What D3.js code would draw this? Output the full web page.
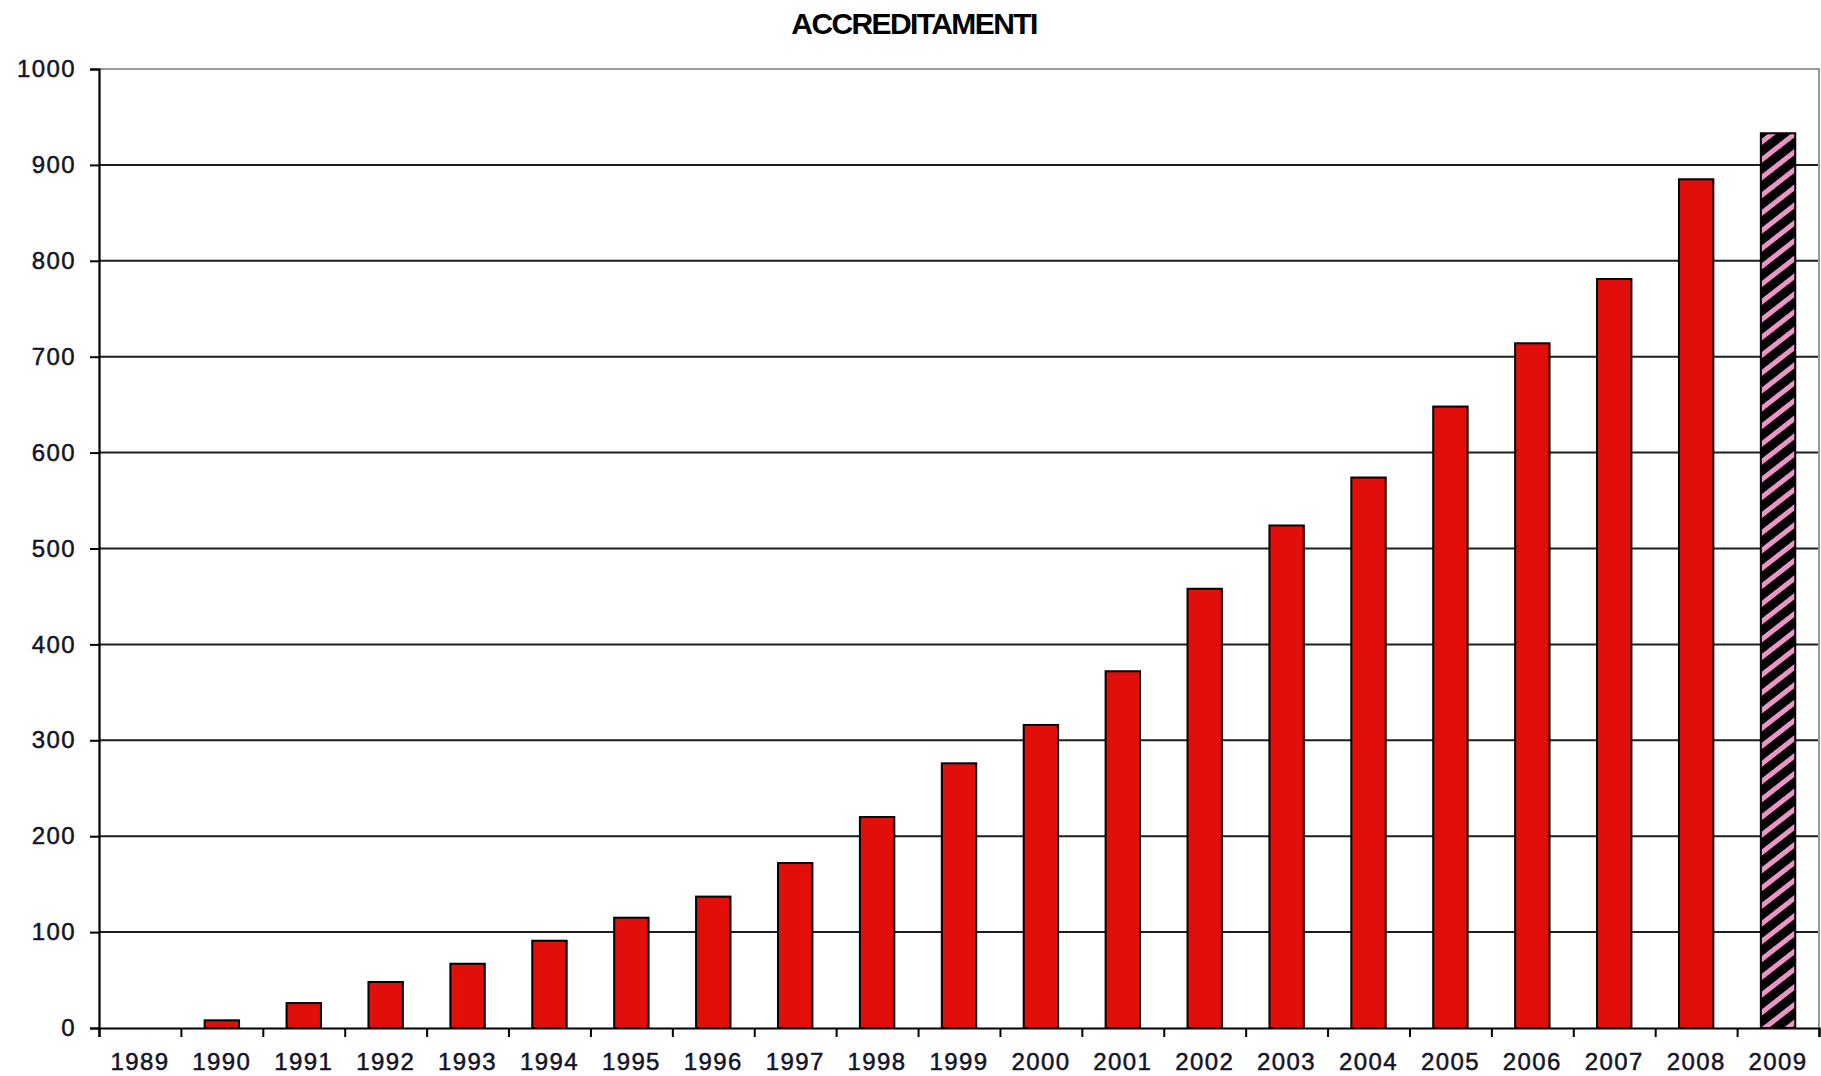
<!DOCTYPE html>
<html>
<head>
<meta charset="utf-8">
<script src="https://cdn.jsdelivr.net/npm/d3@7"></script>
<style>
    body { margin: 0; background: #ffffff; }
    svg { display: block; }
</style>
</head>
<body>
<div id="chart"></div>
<script>
// data
const years = ["1989", "1990", "1991", "1992", "1993", "1994", "1995", "1996", "1997", "1998", "1999",
               "2000", "2001", "2002", "2003", "2004", "2005", "2006", "2007", "2008", "2009"];
const accreditamenti = [0, 8, 26, 48, 67, 91, 115, 137, 172, 220, 276,
                        316, 372, 458, 524, 574, 648, 714, 781, 885, 933];
const hatched_years = ["2009"];   // partial year, drawn with stripes
const y_ticks = [0, 100, 200, 300, 400, 500, 600, 700, 800, 900, 1000];
const title = "ACCREDITAMENTI";

const width = 1821, height = 1076;
const margin = {left: 99, right: 2, top: 69, bottom: 48};

const svg = d3.select("#chart").append("svg")
    .attr("width", width)
    .attr("height", height);

// striped fill for the last bar
const defs = svg.append("defs");
const pat = defs.append("pattern")
    .attr("id", "stripes")
    .attr("patternUnits", "userSpaceOnUse")
    .attr("width", 14)
    .attr("height", 14)
    .attr("patternTransform", "rotate(-38)");
pat.append("rect").attr("width", 14).attr("height", 14).attr("fill", "#000");
pat.append("rect").attr("y", 4).attr("width", 14).attr("height", 5).attr("fill", "#ec94c8");

const xScale = d3.scaleBand()
    .domain(years)
    .range([margin.left, width - margin.right])
    .paddingInner(0.58)
    .paddingOuter(0.29);

// category boundaries for the tick marks
const xEdges = d3.scaleLinear()
    .domain([0, years.length])
    .range([margin.left, width - margin.right]);

const yScale = d3.scaleLinear()
    .domain([0, 1000])
    .range([height - margin.bottom, margin.top]);

// gridlines
svg.append("g")
    .attr("class", "grid")
    .selectAll("line")
    .data(y_ticks.filter(d => d > 0 && d < 1000))
    .enter()
    .append("line")
        .attr("x1", margin.left)
        .attr("x2", width - margin.right)
        .attr("y1", d => yScale(d))
        .attr("y2", d => yScale(d))
        .attr("stroke", "#1e1e1e")
        .attr("stroke-width", 2);

// plot area frame (top and right in grey)
svg.append("path")
    .attr("d", `M${margin.left},${yScale(1000)}H${width - margin.right}V${yScale(0)}`)
    .attr("fill", "none")
    .attr("stroke", "#9a9a9a")
    .attr("stroke-width", 2);

// bars
svg.append("g")
    .attr("class", "bars")
    .selectAll("rect")
    .data(years.map((y, i) => ({year: y, value: accreditamenti[i]})).filter(d => d.value > 0))
    .enter()
    .append("rect")
        .attr("x", d => xScale(d.year))
        .attr("y", d => yScale(d.value))
        .attr("width", xScale.bandwidth())
        .attr("height", d => yScale(0) - yScale(d.value))
        .attr("fill", d => hatched_years.includes(d.year) ? "url(#stripes)" : "#e20e0a")
        .attr("stroke", "#000")
        .attr("stroke-width", 2);

// y axis
const yAxis = d3.axisLeft(yScale)
    .tickValues(y_ticks)
    .tickSize(9)
    .tickPadding(14)
    .tickFormat(d3.format("d"));

const gy = svg.append("g")
    .attr("class", "y-axis")
    .attr("transform", `translate(${margin.left}, 0)`)
    .call(yAxis);

// x axis: boundary ticks + centred labels
const gxTicks = svg.append("g")
    .attr("class", "x-ticks")
    .attr("transform", `translate(0, ${yScale(0)})`)
    .call(d3.axisBottom(xEdges).tickValues(d3.range(years.length + 1)).tickSize(9).tickFormat(""));

const gx = svg.append("g")
    .attr("class", "x-axis")
    .attr("transform", `translate(0, ${yScale(0)})`)
    .call(d3.axisBottom(xScale).tickSize(0).tickPadding(25));
gx.select(".domain").remove();

[gy, gxTicks].forEach(g => {
    g.select(".domain").attr("stroke", "#000").attr("stroke-width", 2.2);
    g.selectAll(".tick line").attr("stroke", "#000").attr("stroke-width", 2);
});

[gy, gx].forEach(g => {
    g.selectAll(".tick text")
        .attr("fill", "#141428")
        .attr("stroke", "#141428")
        .attr("stroke-width", 0.5)
        .style("font-family", "'Liberation Sans', Arial, sans-serif")
        .style("font-size", "24px")
        .style("letter-spacing", "1.4px");
});

// title
svg.append("text")
    .attr("x", 914)
    .attr("y", 34)
    .attr("text-anchor", "middle")
    .style("font-family", "'Liberation Sans', Arial, sans-serif")
    .style("font-weight", "bold")
    .style("font-size", "30px")
    .style("letter-spacing", "-1.6px")
    .attr("fill", "#000")
    .text(title);
</script>
</body>
</html>
